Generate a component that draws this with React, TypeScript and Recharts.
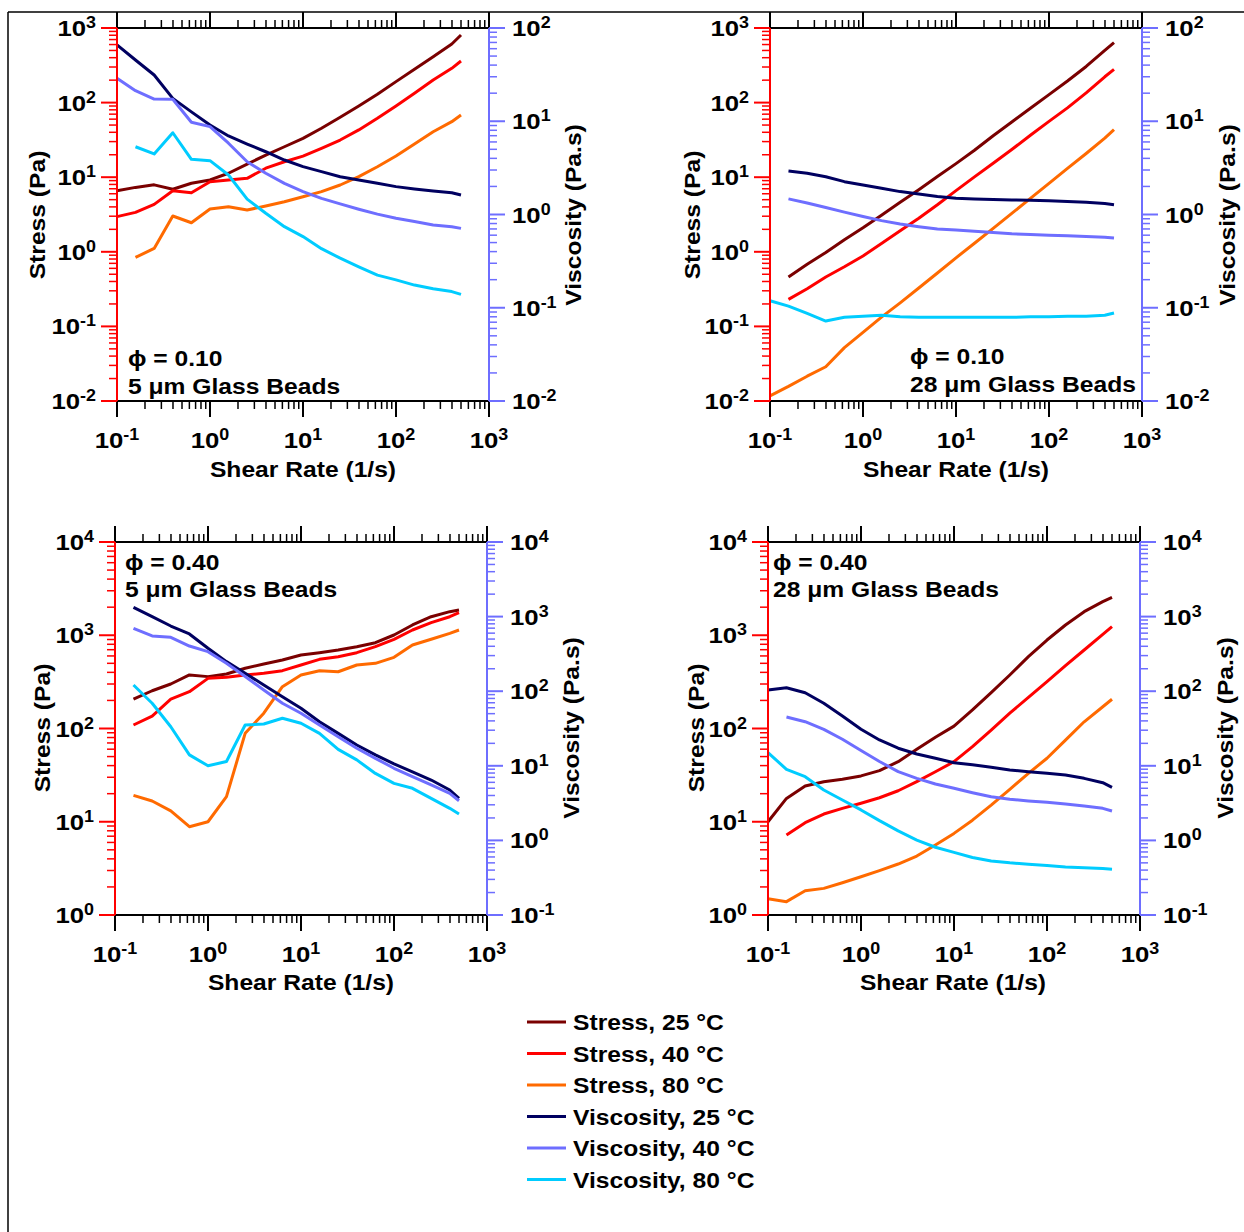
import React from 'react'
import { LineChart, Line, XAxis, YAxis } from 'recharts'

// shear rate (1/s), shared by all four panels
const shearRate = [0.1, 0.158, 0.251, 0.398, 0.631, 1, 1.58, 2.51, 3.98, 6.31, 10, 15.8, 25.1, 39.8, 63.1, 100, 158, 251, 398, 500]

// phi = 0.10, 5 um glass beads
const aStress25 = [6.6, 7.3, 7.9, 6.9, 8.3, 9.2, 11.3, 15.0, 19.8, 25.6, 33.2, 45.3, 63.5, 90, 129, 191, 279, 412, 610, 806]
const aStress40 = [2.96, 3.38, 4.32, 6.59, 6.2, 8.71, 9.17, 9.66, 13.2, 16.1, 19.2, 24.4, 31.5, 43.0, 61.6, 90, 133, 201, 288, 361]
const aStress80 = [null, 0.84, 1.11, 3.02, 2.45, 3.75, 4.02, 3.63, 4.11, 4.69, 5.48, 6.4, 7.86, 10.2, 13.8, 19.2, 27.9, 40.7, 55.5, 68.2]
const aVisc25 = [65.8, 45.4, 31.3, 17.6, 12.6, 9.11, 6.95, 5.7, 4.71, 3.84, 3.26, 2.88, 2.54, 2.34, 2.16, 1.99, 1.88, 1.79, 1.71, 1.62]
const aVisc40 = [28.9, 21.3, 17.3, 17.2, 9.75, 8.75, 5.81, 3.68, 2.77, 2.16, 1.76, 1.49, 1.3, 1.14, 1.01, 0.91, 0.84, 0.77, 0.74, 0.71]
const aVisc80 = [null, 5.33, 4.46, 7.53, 3.91, 3.78, 2.65, 1.46, 1.03, 0.74, 0.58, 0.43, 0.34, 0.275, 0.224, 0.199, 0.175, 0.16, 0.149, 0.139]

// phi = 0.10, 28 um glass beads
const bStress25 = [null, 0.46, 0.68, 0.98, 1.45, 2.1, 3.1, 4.6, 6.8, 10.2, 15.2, 23, 36, 55, 84, 128, 195, 305, 500, 635]
const bStress40 = [null, 0.23, 0.32, 0.46, 0.63, 0.88, 1.29, 1.91, 2.82, 4.27, 6.6, 10.1, 15.4, 23.5, 36.5, 56, 85, 135, 222, 279]
const bStress80 = [0.0117, 0.0157, 0.0215, 0.0288, 0.052, 0.083, 0.133, 0.207, 0.327, 0.52, 0.83, 1.3, 2.06, 3.27, 5.2, 8.25, 13.1, 20.8, 33.5, 43.5]
const bVisc25 = [null, 2.93, 2.77, 2.54, 2.25, 2.07, 1.91, 1.76, 1.66, 1.56, 1.49, 1.47, 1.45, 1.43, 1.42, 1.4, 1.38, 1.35, 1.31, 1.27]
const bVisc40 = [null, 1.47, 1.33, 1.19, 1.06, 0.95, 0.86, 0.79, 0.74, 0.7, 0.68, 0.66, 0.64, 0.62, 0.61, 0.6, 0.59, 0.58, 0.57, 0.56]
const bVisc80 = [0.119, 0.104, 0.087, 0.072, 0.079, 0.081, 0.083, 0.08, 0.079, 0.079, 0.079, 0.079, 0.079, 0.079, 0.08, 0.08, 0.081, 0.081, 0.083, 0.088]

// phi = 0.40, 5 um glass beads
const cStress25 = [null, 206, 254, 300, 375, 360, 384, 443, 492, 543, 614, 650, 695, 754, 832, 1006, 1289, 1581, 1790, 1866]
const cStress40 = [null, 109, 136, 206, 248, 345, 354, 375, 391, 417, 480, 552, 589, 650, 754, 905, 1138, 1365, 1581, 1746]
const cStress80 = [null, 19.2, 16.7, 13.1, 8.85, 10.0, 18.6, 88.7, 146, 281, 375, 417, 406, 480, 500, 580, 785, 905, 1049, 1138]
const cVisc25 = [null, 1331, 998, 748, 585, 376, 249, 174, 121, 84, 59, 39, 27.2, 19.0, 14.0, 10.6, 8.3, 6.45, 4.74, 3.66]
const cVisc40 = [null, 697, 550, 527, 403, 339, 237, 157, 104, 69, 50.6, 35.2, 24.5, 17.2, 12.6, 9.26, 7.15, 5.53, 4.28, 3.4]
const cVisc80 = [null, 121, 69, 33.4, 14.0, 10.0, 11.4, 35.2, 36.3, 43.4, 37.2, 27.2, 16.6, 12.0, 7.9, 5.82, 4.99, 3.66, 2.69, 2.26]

// phi = 0.40, 28 um glass beads
const dStress25 = [10.0, 17.8, 24.2, 26.9, 28.5, 31.0, 35.3, 44.1, 59.8, 80.5, 106, 158, 242, 375, 589, 889, 1289, 1790, 2291, 2552]
const dStress40 = [null, 7.21, 9.77, 12.1, 13.9, 15.8, 18.1, 21.5, 26.9, 34.4, 44.1, 63.8, 96.3, 146, 216, 318, 472, 695, 1023, 1236]
const dStress80 = [1.49, 1.39, 1.82, 1.93, 2.22, 2.57, 2.99, 3.52, 4.29, 5.64, 7.5, 10.4, 15.1, 22.3, 33, 48, 75, 118, 171, 206]
const dVisc25 = [104, 111, 95.5, 68.9, 46.6, 30.9, 22.2, 17.2, 14.4, 12.6, 11.0, 10.3, 9.55, 8.79, 8.34, 7.93, 7.53, 6.79, 5.94, 5.15]
const dVisc40 = [null, 45.1, 39.0, 30.8, 22.7, 16.0, 11.4, 8.34, 6.79, 5.7, 4.99, 4.36, 3.85, 3.56, 3.38, 3.24, 3.08, 2.89, 2.69, 2.48]
const dVisc80 = [15.0, 8.97, 7.15, 4.74, 3.48, 2.56, 1.84, 1.34, 1.01, 0.81, 0.69, 0.59, 0.53, 0.5, 0.48, 0.46, 0.44, 0.43, 0.42, 0.41]

const seriesKeys = ['s25', 's40', 's80', 'v25', 'v40', 'v80']
const seriesNames = ['Stress, 25 °C', 'Stress, 40 °C', 'Stress, 80 °C', 'Viscosity, 25 °C', 'Viscosity, 40 °C', 'Viscosity, 80 °C']
const seriesColors = ['#7a0000', '#ff0000', '#ff6a00', '#000060', '#6e6eff', '#00ccff']

const FONT = '"Liberation Sans", Arial, Helvetica, sans-serif'
const SX = 1.12
const STRESS_AXIS = '#ff0000'
const VISC_AXIS = '#6e6eff'

type Panel = {
  series: (number | null)[][]
  stressDomain: [number, number]
  viscDomain: [number, number]
  ox: number
  oy: number
  plot: { x0: number; x1: number; y0: number; y1: number }
  note: [string, string]
  noteX: number
  noteY: [number, number]
  stressTitleX: number
  viscTitleX: number
  titleY: number
  shearX: number
  shearY: number
}

const panels: Panel[] = [
  {
    series: [aStress25, aStress40, aStress80, aVisc25, aVisc40, aVisc80],
    stressDomain: [0.01, 1000], viscDomain: [0.01, 100],
    ox: 0, oy: 0, plot: { x0: 117, x1: 489, y0: 28, y1: 401 },
    note: ['ϕ = 0.10', '5 μm Glass Beads'], noteX: 128, noteY: [366, 394],
    stressTitleX: 45, viscTitleX: 581, titleY: 215, shearX: 303, shearY: 477,
  },
  {
    series: [bStress25, bStress40, bStress80, bVisc25, bVisc40, bVisc80],
    stressDomain: [0.01, 1000], viscDomain: [0.01, 100],
    ox: 622, oy: 0, plot: { x0: 770, x1: 1142, y0: 28, y1: 401 },
    note: ['ϕ = 0.10', '28 μm Glass Beads'], noteX: 910, noteY: [364, 392],
    stressTitleX: 700, viscTitleX: 1235, titleY: 215, shearX: 956, shearY: 477,
  },
  {
    series: [cStress25, cStress40, cStress80, cVisc25, cVisc40, cVisc80],
    stressDomain: [1, 10000], viscDomain: [0.1, 10000],
    ox: 0, oy: 500, plot: { x0: 115, x1: 487, y0: 542, y1: 915 },
    note: ['ϕ = 0.40', '5 μm Glass Beads'], noteX: 125, noteY: [570, 597],
    stressTitleX: 50, viscTitleX: 579, titleY: 728, shearX: 301, shearY: 990,
  },
  {
    series: [dStress25, dStress40, dStress80, dVisc25, dVisc40, dVisc80],
    stressDomain: [1, 10000], viscDomain: [0.1, 10000],
    ox: 622, oy: 500, plot: { x0: 768, x1: 1140, y0: 542, y1: 915 },
    note: ['ϕ = 0.40', '28 μm Glass Beads'], noteX: 773, noteY: [570, 597],
    stressTitleX: 704, viscTitleX: 1233, titleY: 728, shearX: 953, shearY: 990,
  },
]

const CW = 622
const CH = 500

function logTicks([lo, hi]: [number, number]) {
  const out: number[] = []
  const e0 = Math.round(Math.log10(lo))
  const e1 = Math.round(Math.log10(hi))
  for (let e = e0; e < e1; e++) {
    for (let m = 1; m < 10; m++) out.push(+(m * Math.pow(10, e)).toPrecision(3))
  }
  out.push(hi)
  return out
}

const isMajor = (v: number) => Math.abs(Math.log10(v) - Math.round(Math.log10(v))) < 1e-6

function Wide({ x, y, size = 22, anchor = 'start', rotate = 0, children }: any) {
  return (
    <text
      transform={`translate(${x},${y}) rotate(${rotate}) scale(${SX},1)`}
      textAnchor={anchor}
      fontFamily={FONT}
      fontWeight="bold"
      fontSize={size}
      fill="#000"
    >
      {children}
    </text>
  )
}

function Pow({ x, y, exp, anchor }: { x: number; y: number; exp: number; anchor: string }) {
  return (
    <Wide x={x} y={y} anchor={anchor} size={23}>
      10<tspan fontSize={16} dy={-8}>{exp}</tspan>
    </Wide>
  )
}

const makeTick = (side: 'bottom' | 'top' | 'left' | 'right', edge: number, color: string) => (props: any) => {
  const v = props.payload.value
  const major = isMajor(v)
  const len = major ? 16 : 8
  const sw = major ? 2 : 1.5
  const e = Math.round(Math.log10(v))
  if (side === 'bottom' || side === 'top') {
    const c = props.payload.coordinate ?? props.x
    const dir = side === 'bottom' ? 1 : -1
    return (
      <g>
        <line x1={c} x2={c} y1={edge} y2={edge + dir * len} stroke={color} strokeWidth={sw} />
        {major && side === 'bottom' && <Pow x={c} y={edge + 47} exp={e} anchor="middle" />}
      </g>
    )
  }
  const c = props.payload.coordinate ?? props.y
  const dir = side === 'left' ? -1 : 1
  return (
    <g>
      <line x1={edge} x2={edge + dir * len} y1={c} y2={c} stroke={color} strokeWidth={sw} />
      {major && (
        <Pow
          x={side === 'left' ? edge - 21 : edge + 23}
          y={c + 8}
          exp={e}
          anchor={side === 'left' ? 'end' : 'start'}
        />
      )}
    </g>
  )
}

const xDomain: [number, number] = [0.1, 1000]
const xTicks = logTicks(xDomain)

function PanelChart({ p }: { p: Panel }) {
  const rows = shearRate.map((x, i) => {
    const r: Record<string, number | null> = { x }
    seriesKeys.forEach((k, j) => (r[k] = p.series[j][i]))
    return r
  })
  const l = { x0: p.plot.x0 - p.ox, x1: p.plot.x1 - p.ox, y0: p.plot.y0 - p.oy, y1: p.plot.y1 - p.oy }
  // axes are 1px thick boxes (Recharts skips zero-size axes), so margins give up 1px each
  return (
    <div style={{ position: 'absolute', left: p.ox, top: p.oy, width: CW, height: CH }}>
      <LineChart
        width={CW}
        height={CH}
        data={rows}
        margin={{ left: l.x0 - 1, right: CW - l.x1 - 1, top: l.y0 - 1, bottom: CH - l.y1 - 1 }}
      >
        <XAxis
          xAxisId="bot"
          dataKey="x"
          type="number"
          scale="log"
          domain={xDomain}
          ticks={xTicks}
          interval={0}
          height={1}
          tickLine={false}
          tickSize={0}
          tickMargin={0}
          axisLine={{ stroke: '#000', strokeWidth: 2 }}
          tick={makeTick('bottom', l.y1, '#000')}
        />
        <XAxis
          xAxisId="top"
          orientation="top"
          dataKey="x"
          type="number"
          scale="log"
          domain={xDomain}
          ticks={xTicks}
          interval={0}
          height={1}
          tickLine={false}
          tickSize={0}
          tickMargin={0}
          axisLine={{ stroke: '#000', strokeWidth: 2 }}
          tick={makeTick('top', l.y0, '#000')}
        />
        <YAxis
          yAxisId="stress"
          orientation="left"
          type="number"
          scale="log"
          domain={p.stressDomain}
          ticks={logTicks(p.stressDomain)}
          interval={0}
          width={1}
          tickLine={false}
          tickSize={0}
          tickMargin={0}
          axisLine={{ stroke: STRESS_AXIS, strokeWidth: 2 }}
          tick={makeTick('left', l.x0, STRESS_AXIS)}
        />
        <YAxis
          yAxisId="visc"
          orientation="right"
          type="number"
          scale="log"
          domain={p.viscDomain}
          ticks={logTicks(p.viscDomain)}
          interval={0}
          width={1}
          tickLine={false}
          tickSize={0}
          tickMargin={0}
          axisLine={{ stroke: VISC_AXIS, strokeWidth: 2 }}
          tick={makeTick('right', l.x1, VISC_AXIS)}
        />
        {seriesKeys.map((k, j) => (
          <Line
            key={k}
            xAxisId="bot"
            yAxisId={j < 3 ? 'stress' : 'visc'}
            type="linear"
            dataKey={k}
            name={seriesNames[j]}
            stroke={seriesColors[j]}
            strokeWidth={3}
            strokeLinejoin="round"
            dot={false}
            activeDot={false}
            isAnimationActive={false}
          />
        ))}
      </LineChart>
    </div>
  )
}

export default function App() {
  return (
    <div style={{ position: 'absolute', left: 0, top: 0, width: 1244, height: 1232, background: '#fff' }}>
      {panels.map((p, i) => (
        <PanelChart key={i} p={p} />
      ))}
      <svg
        width={1244}
        height={1232}
        style={{ position: 'absolute', left: 0, top: 0, pointerEvents: 'none' }}
      >
        <line x1={8} y1={12} x2={1244} y2={12} stroke="#000" strokeWidth={1.5} />
        <line x1={8} y1={12} x2={8} y2={1232} stroke="#000" strokeWidth={1.5} />
        {panels.map((p, i) => (
          <g key={i}>
            <Wide x={p.noteX} y={p.noteY[0]}>{p.note[0]}</Wide>
            <Wide x={p.noteX} y={p.noteY[1]}>{p.note[1]}</Wide>
            <Wide x={p.stressTitleX} y={p.titleY} anchor="middle" rotate={-90}>Stress (Pa)</Wide>
            <Wide x={p.viscTitleX} y={p.titleY} anchor="middle" rotate={-90}>Viscosity (Pa.s)</Wide>
            <Wide x={p.shearX} y={p.shearY} anchor="middle">Shear Rate (1/s)</Wide>
          </g>
        ))}
        {seriesNames.map((name, j) => {
          const y = 1022 + j * 31.5
          return (
            <g key={name}>
              <line x1={527} x2={566} y1={y} y2={y} stroke={seriesColors[j]} strokeWidth={3} />
              <Wide x={573} y={y + 8}>{name}</Wide>
            </g>
          )
        })}
      </svg>
    </div>
  )
}
